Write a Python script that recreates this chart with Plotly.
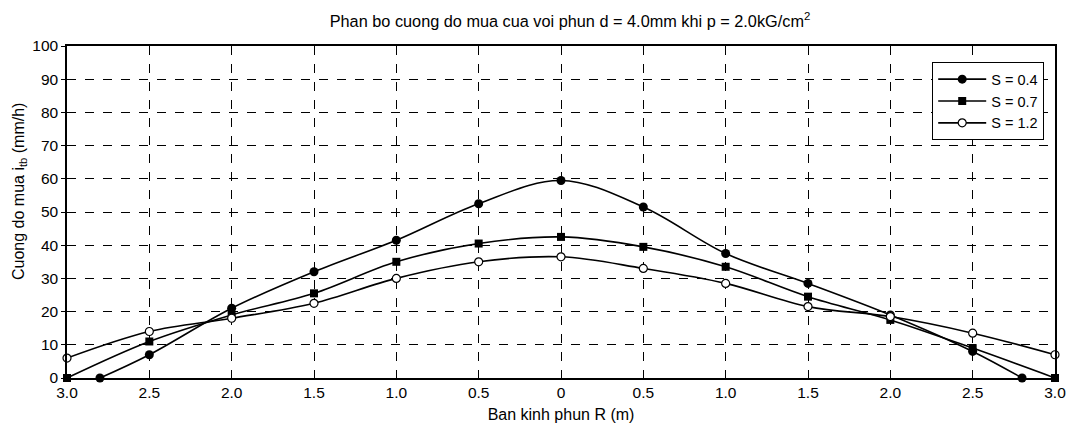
import plotly.graph_objects as go

# Data
x_s04 = [-2.8, -2.5, -2.0, -1.5, -1.0, -0.5, 0, 0.5, 1.0, 1.5, 2.0, 2.5, 2.8]
y_s04 = [0, 7, 21, 32, 41.5, 52.5, 59.5, 51.5, 37.5, 28.5, 19, 8, 0]
x_full = [-3.0, -2.5, -2.0, -1.5, -1.0, -0.5, 0, 0.5, 1.0, 1.5, 2.0, 2.5, 3.0]
y_s07 = [0, 11, 19, 25.5, 35, 40.5, 42.5, 39.5, 33.5, 24.5, 17.5, 9, 0]
y_s12 = [6, 14, 18, 22.5, 30, 35, 36.5, 33, 28.5, 21.5, 18.5, 13.5, 7]
x_tickvals = [-3, -2.5, -2, -1.5, -1, -0.5, 0, 0.5, 1, 1.5, 2, 2.5, 3]
x_ticktext = ["3.0", "2.5", "2.0", "1.5", "1.0", "0.5", "0", "0.5", "1.0", "1.5", "2.0", "2.5", "3.0"]

FONT = "Liberation Sans, Arial, sans-serif"
W, H = 1066, 430
ML, MR, MT, MB = 67, 11, 46, 52

fig = go.Figure()
fig.add_trace(go.Scatter(
    x=x_s04, y=y_s04, name="S = 0.4", mode="lines+markers",
    line=dict(color="black", width=1.6, shape="spline", smoothing=1),
    marker=dict(symbol="circle", size=9, color="black"),
    cliponaxis=False))
fig.add_trace(go.Scatter(
    x=x_full, y=y_s07, name="S = 0.7", mode="lines+markers",
    line=dict(color="black", width=1.6, shape="spline", smoothing=1),
    marker=dict(symbol="square", size=8, color="black"),
    cliponaxis=False))
fig.add_trace(go.Scatter(
    x=x_full, y=y_s12, name="S = 1.2", mode="lines+markers",
    line=dict(color="black", width=1.6, shape="spline", smoothing=1),
    marker=dict(symbol="circle", size=8, color="white", line=dict(color="black", width=1.2)),
    cliponaxis=False))

pw = W - ML - MR
ph = H - MT - MB

fig.update_layout(
    width=W, height=H,
    margin=dict(l=ML, r=MR, t=MT, b=MB, autoexpand=False),
    paper_bgcolor="white", plot_bgcolor="white",
    font=dict(family=FONT, color="black"),
    title=dict(text="Phan bo cuong do mua cua voi phun d = 4.0mm khi p = 2.0kG/cm<sup>2</sup>",
               x=570 / W, xanchor="center", y=1 - 21 / H, yref="container", yanchor="middle",
               font=dict(size=16.3, family=FONT, color="black")),
    legend=dict(x=(1044 - ML) / pw, xanchor="right", y=(H - MB - 62) / ph, yanchor="top",
                bgcolor="white", bordercolor="black", borderwidth=1.2,
                font=dict(size=14.5, family=FONT), tracegroupgap=0,
                itemwidth=48),
    showlegend=True,
    annotations=[dict(text="Cuong do mua i<sub>tb</sub> (mm/h)", textangle=-90,
                      xref="paper", yref="paper",
                      x=(19 - ML) / pw, y=(H - MB - 192) / ph,
                      xanchor="center", yanchor="middle", showarrow=False,
                      font=dict(size=16, family=FONT, color="black"))],
)
fig.update_xaxes(
    range=[-3, 3], tickvals=x_tickvals, ticktext=x_ticktext,
    showline=True, linecolor="black", linewidth=1.5, mirror=True,
    showgrid=True, gridcolor="black", griddash="dash", gridwidth=1,
    zeroline=False, ticks="", tickfont=dict(size=15.5, family=FONT),
    automargin=False, ticklabeloverflow="allow",
    title=dict(text="Ban kinh phun R (m)", font=dict(size=16, family=FONT), standoff=8),
)
fig.update_yaxes(
    range=[0, 100], dtick=10,
    showline=True, linecolor="black", linewidth=1.5, mirror=True,
    showgrid=True, gridcolor="black", griddash="dash", gridwidth=1,
    zeroline=False, ticks="outside", ticklen=4, tickcolor="black",
    tickfont=dict(size=15.5, family=FONT), automargin=False,
)

fig.write_html("out.html", config={"displayModeBar": False},
               post_script="document.body.style.margin='0';document.body.style.overflow='hidden';")
